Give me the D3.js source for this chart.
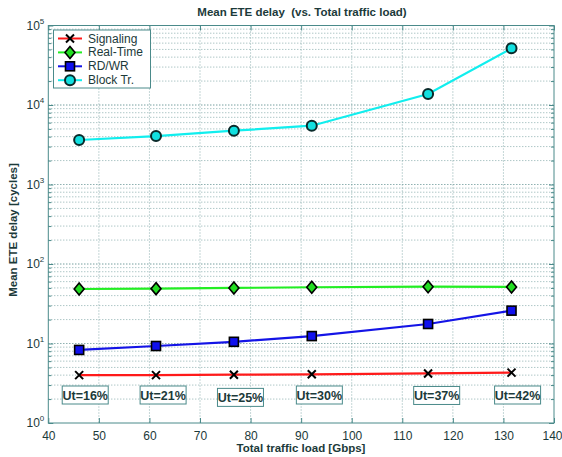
<!DOCTYPE html>
<html><head><meta charset="utf-8">
<script src="https://cdn.jsdelivr.net/npm/d3@7"></script>
<style>
body{margin:0;background:#fff;}
svg{display:block;font-family:"Liberation Sans",Arial,sans-serif;}
</style></head>
<body>
<svg id="chart" width="562" height="457"></svg>
<script>
// ---- data ----
const loads = [46.1, 61.3, 76.7, 92.1, 115.1, 131.6];
const seriesNames = ["Signaling", "Real-Time", "RD/WR", "Block Tr."];
const signaling = [4.0, 4.0, 4.05, 4.1, 4.2, 4.3];
const realTime = [48.5, 49, 50, 51, 51.8, 51.5];
const rdwr = [8.3, 9.3, 10.5, 12.4, 17.6, 25.9];
const blockTr = [3630, 4070, 4750, 5490, 13750, 51600];
const utLabels = ["Ut=16%", "Ut=21%", "Ut=25%", "Ut=30%", "Ut=37%", "Ut=42%"];
const utX = [47.3, 62.7, 78.0, 93.6, 116.8, 132.8];
const utY = [2.25, 2.25, 2.1, 2.25, 2.22, 2.25];
const xTicks = [40, 50, 60, 70, 80, 90, 100, 110, 120, 130, 140];
const yTicks = [1, 10, 100, 1000, 10000, 100000];
const yExp = ["0", "1", "2", "3", "4", "5"];

const svg = d3.select("#chart");
const L = 48.3, R = 554, T = 25.5, B = 423;
const x = d3.scaleLinear().domain([40, 140]).range([L, R]);
const y = d3.scaleLog().domain([1, 1e5]).range([B, T]);

const gridCol = "#7fa6a6";
const axisCol = "#4a8a8a";
const textCol = "#1c3a3a";

// grid
const g = svg.append("g");
xTicks.slice(1, -1).forEach(v => {
  g.append("line").attr("x1", x(v)).attr("x2", x(v)).attr("y1", T).attr("y2", B)
   .attr("stroke", gridCol).attr("stroke-width", 0.9).attr("stroke-dasharray", "1,2");
});
const minor = [];
for (let d = 0; d < 5; d++) for (let m = 1; m <= 10; m++) {
  const v = m * Math.pow(10, d);
  if (v > 1 && v < 1e5) minor.push(v);
}
minor.forEach(v => {
  g.append("line").attr("x1", L).attr("x2", R).attr("y1", y(v)).attr("y2", y(v))
   .attr("stroke", gridCol).attr("stroke-width", 0.9).attr("stroke-dasharray", "1,2");
});

// axes
const xAxis = d3.axisBottom(x).tickValues(xTicks).tickSize(-5).tickPadding(6).tickFormat(d3.format("d"));
const xa = svg.append("g").attr("transform", `translate(0,${B})`).call(xAxis);
xa.select(".domain").remove();
xa.selectAll("line").attr("stroke", axisCol);
xa.selectAll("text").attr("fill", textCol).attr("font-size", 12).attr("dy", "0.9em");
xa.selectAll("text").filter(d => d === 140).attr("dx", -2);
const xaTop = svg.append("g").attr("transform", `translate(0,${T})`).call(d3.axisTop(x).tickValues(xTicks).tickSize(-5).tickFormat(""));
xaTop.select(".domain").remove();
xaTop.selectAll("line").attr("stroke", axisCol);

const minorOnly = minor.filter(v => !yTicks.includes(v));
const ya = svg.append("g").attr("transform", `translate(${L},0)`).call(d3.axisLeft(y).tickValues(yTicks).tickSize(-5).tickFormat(""));
ya.select(".domain").remove();
ya.selectAll("line").attr("stroke", axisCol);
const yaMinor = svg.append("g").attr("transform", `translate(${L},0)`).call(d3.axisLeft(y).tickValues(minorOnly).tickSize(-3).tickFormat(""));
yaMinor.select(".domain").remove();
yaMinor.selectAll("line").attr("stroke", axisCol);
const yaR = svg.append("g").attr("transform", `translate(${R},0)`).call(d3.axisRight(y).tickValues(yTicks).tickSize(-5).tickFormat(""));
yaR.select(".domain").remove();
yaR.selectAll("line").attr("stroke", axisCol);
const yaRMinor = svg.append("g").attr("transform", `translate(${R},0)`).call(d3.axisRight(y).tickValues(minorOnly).tickSize(-3).tickFormat(""));
yaRMinor.select(".domain").remove();
yaRMinor.selectAll("line").attr("stroke", axisCol);

// y tick labels with superscripts
yTicks.forEach((v, i) => {
  const t = svg.append("text").attr("x", L - 4).attr("y", y(v) + 4)
    .attr("text-anchor", "end").attr("fill", textCol).attr("font-size", 12);
  t.append("tspan").text("10");
  t.append("tspan").attr("font-size", 8).attr("dy", -6).text(yExp[i]);
});

// frame
svg.append("rect").attr("x", L).attr("y", T).attr("width", R - L).attr("height", B - T)
  .attr("fill", "none").attr("stroke", axisCol).attr("stroke-width", 1);

// title & labels
svg.append("text").attr("x", 302).attr("y", 16).attr("text-anchor", "middle")
  .attr("font-weight", "bold").attr("font-size", 11.5).attr("fill", textCol)
  .attr("xml:space", "preserve").text("Mean ETE delay  (vs. Total traffic load)");
svg.append("text").attr("x", 301).attr("y", 452).attr("text-anchor", "middle")
  .attr("font-weight", "bold").attr("font-size", 11.5).attr("fill", textCol)
  .text("Total traffic load [Gbps]");
svg.append("text").attr("transform", `translate(17,230) rotate(-90)`).attr("text-anchor", "middle")
  .attr("font-weight", "bold").attr("font-size", 11.5).attr("fill", textCol)
  .text("Mean ETE delay [cycles]");

// series
const series = [
  {name: seriesNames[0], vals: signaling, line: "#ff1a1a", fill: "none", marker: "x"},
  {name: seriesNames[1], vals: realTime, line: "#22ee22", fill: "#22dd22", marker: "diamond"},
  {name: seriesNames[2], vals: rdwr, line: "#1414e6", fill: "#1010ee", marker: "square"},
  {name: seriesNames[3], vals: blockTr, line: "#11eeee", fill: "#11e0e0", marker: "circle"}
];

function drawMarker(sel, type, cx, cy, fill) {
  if (type === "x") {
    const s = 4;
    sel.append("path").attr("d", `M${cx-s},${cy-s}L${cx+s},${cy+s}M${cx-s},${cy+s}L${cx+s},${cy-s}`)
      .attr("stroke", "#000").attr("stroke-width", 2);
  } else if (type === "diamond") {
    sel.append("path").attr("d", `M${cx},${cy-6}L${cx+5},${cy}L${cx},${cy+6}L${cx-5},${cy}Z`)
      .attr("fill", fill).attr("stroke", "#000").attr("stroke-width", 1.6);
  } else if (type === "square") {
    sel.append("rect").attr("x", cx - 4.5).attr("y", cy - 4.5).attr("width", 9).attr("height", 9)
      .attr("fill", fill).attr("stroke", "#000").attr("stroke-width", 1.6);
  } else {
    sel.append("circle").attr("cx", cx).attr("cy", cy).attr("r", 5)
      .attr("fill", fill).attr("stroke", "#0a2a2a").attr("stroke-width", 2);
  }
}

const line = d3.line().x((d, i) => x(loads[i])).y(d => y(d));
series.forEach(s => {
  const gs = svg.append("g");
  gs.append("path").attr("d", line(s.vals)).attr("fill", "none")
    .attr("stroke", s.line).attr("stroke-width", 2.2);
  s.vals.forEach((v, i) => drawMarker(gs, s.marker, x(loads[i]), y(v), s.fill));
});

// annotations
utLabels.forEach((lab, i) => {
  const cx = x(utX[i]), cy = y(utY[i]);
  const ga = svg.append("g");
  ga.append("rect").attr("x", cx - 23).attr("y", cy - 9).attr("width", 46).attr("height", 18)
    .attr("fill", "#fff").attr("stroke", axisCol).attr("stroke-width", 1);
  ga.append("text").attr("x", cx).attr("y", cy + 4.5).attr("text-anchor", "middle")
    .attr("font-weight", "bold").attr("font-size", 12.5).attr("fill", textCol).text(lab);
});

// legend
const lg = svg.append("g");
lg.append("rect").attr("x", 53.5).attr("y", 30).attr("width", 97).attr("height", 58)
  .attr("fill", "#fff").attr("stroke", axisCol).attr("stroke-width", 1);
series.forEach((s, i) => {
  const ly = 38.5 + i * 13.9;
  lg.append("line").attr("x1", 58).attr("x2", 82).attr("y1", ly).attr("y2", ly)
    .attr("stroke", s.line).attr("stroke-width", 2);
  drawMarker(lg, s.marker, 70, ly, s.fill);
  lg.append("text").attr("x", 88).attr("y", ly + 4).attr("font-size", 12)
    .attr("fill", textCol).text(s.name);
});
</script>
</body></html>
